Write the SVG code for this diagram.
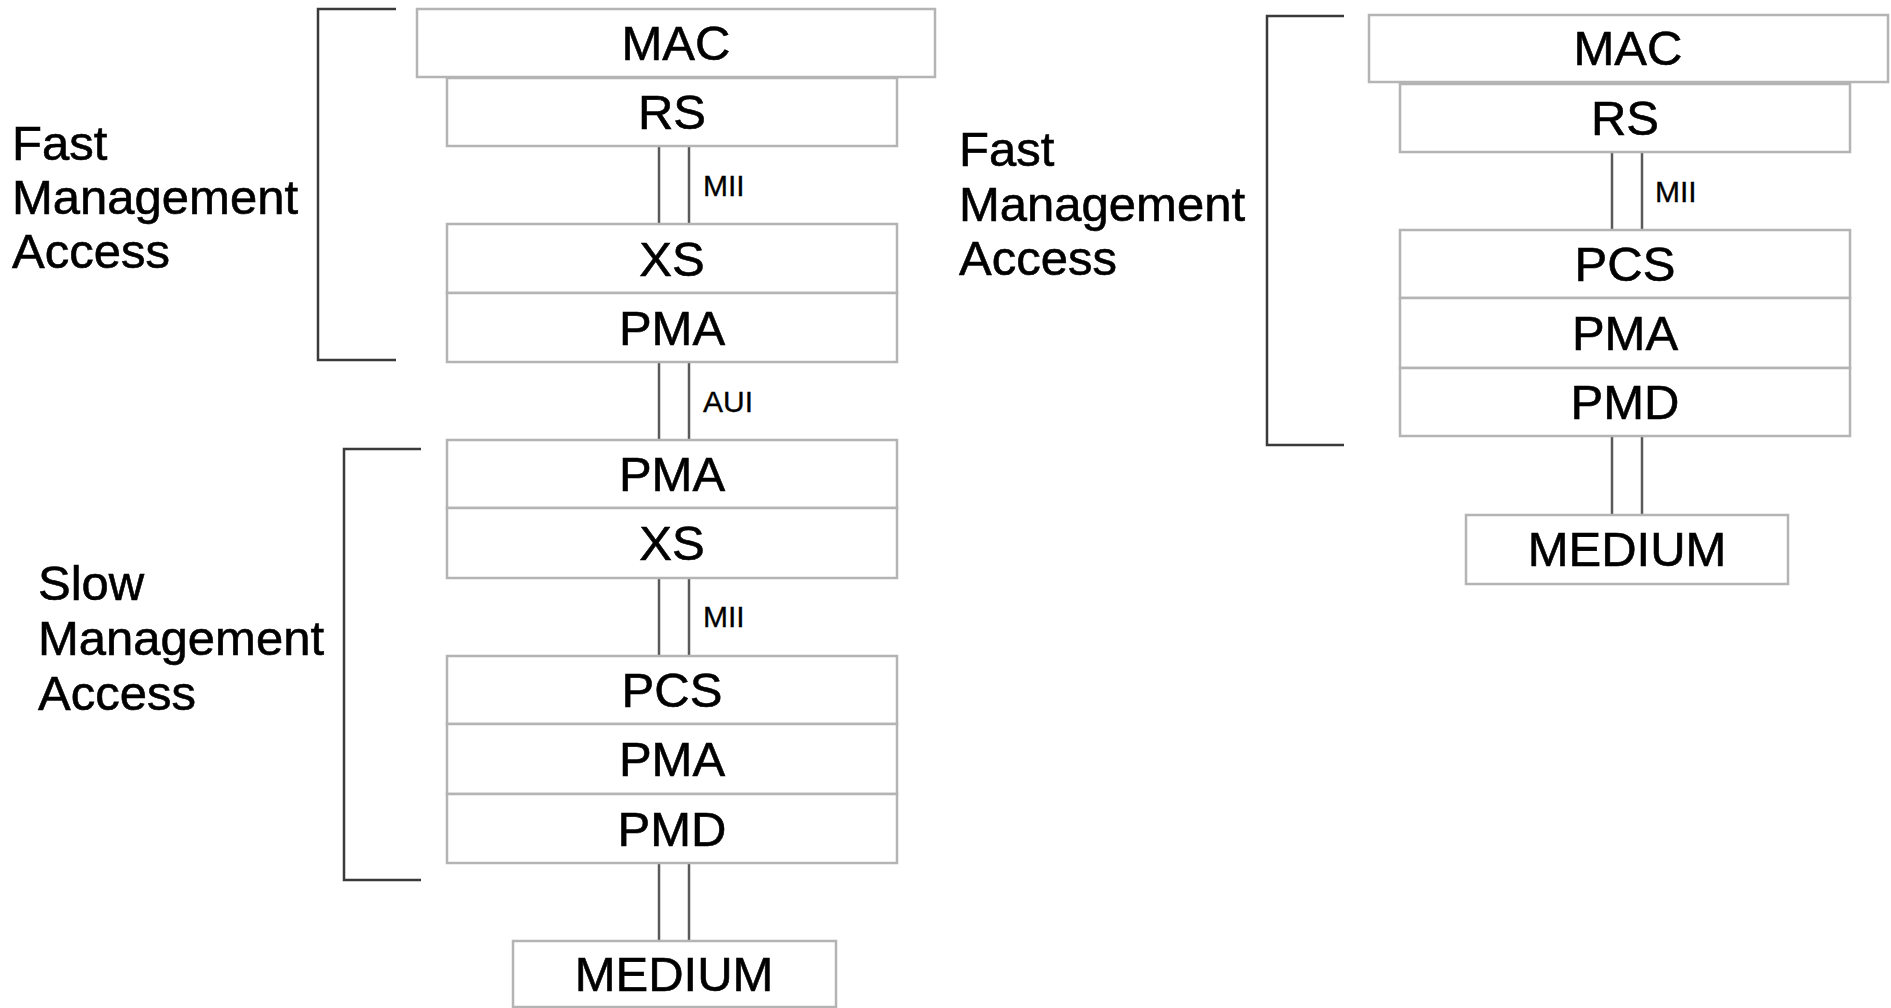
<svg xmlns="http://www.w3.org/2000/svg" width="1891" height="1008" viewBox="0 0 1891 1008">
<style>
.box{fill:#fff;stroke:#b4b4b4;stroke-width:2.5}
.lbl{font-family:"Liberation Sans",Arial,sans-serif;font-size:49px;fill:#000;stroke:#000;stroke-width:0.6;text-anchor:middle}
.side{font-family:"Liberation Sans",Arial,sans-serif;font-size:49px;fill:#000;stroke:#000;stroke-width:0.6}
.small{font-family:"Liberation Sans",Arial,sans-serif;font-size:30px;fill:#000;stroke:#000;stroke-width:0.3}
.conn{stroke:#5a5a5a;stroke-width:2.5;fill:none}
.bracket{stroke:#3a3a3a;stroke-width:2.5;fill:none}
</style>
<rect width="1891" height="1008" fill="#fff"/>

<g id="connectors">
  <line class="conn" x1="659" y1="146" x2="659" y2="224"/>
  <line class="conn" x1="689" y1="146" x2="689" y2="224"/>
  <line class="conn" x1="659" y1="362" x2="659" y2="440"/>
  <line class="conn" x1="689" y1="362" x2="689" y2="440"/>
  <line class="conn" x1="659" y1="578" x2="659" y2="656"/>
  <line class="conn" x1="689" y1="578" x2="689" y2="656"/>
  <line class="conn" x1="659" y1="863" x2="659" y2="941"/>
  <line class="conn" x1="689" y1="863" x2="689" y2="941"/>
  <line class="conn" x1="1612" y1="152" x2="1612" y2="230"/>
  <line class="conn" x1="1642" y1="152" x2="1642" y2="230"/>
  <line class="conn" x1="1612" y1="436" x2="1612" y2="515"/>
  <line class="conn" x1="1642" y1="436" x2="1642" y2="515"/>
  <text class="small" x="703" y="196">MII</text>
  <text class="small" x="703" y="412">AUI</text>
  <text class="small" x="703" y="627">MII</text>
  <text class="small" x="1655" y="202">MII</text>
</g>

<g id="brackets">
  <path class="bracket" d="M396,9 H318 V360 H396"/>
  <path class="bracket" d="M421,449 H344 V880 H421"/>
  <path class="bracket" d="M1344,16 H1267 V445 H1344"/>
</g>

<g id="label-fast-left">
  <text class="side" x="12" y="160">Fast</text>
  <text class="side" x="12" y="214">Management</text>
  <text class="side" x="12" y="268">Access</text>
</g>
<g id="label-slow-left">
  <text class="side" x="38" y="600">Slow</text>
  <text class="side" x="38" y="655">Management</text>
  <text class="side" x="38" y="710">Access</text>
</g>
<g id="label-fast-right">
  <text class="side" x="959" y="166">Fast</text>
  <text class="side" x="959" y="221">Management</text>
  <text class="side" x="959" y="275">Access</text>
</g>

<g id="l-mac"><rect class="box" x="417" y="9" width="518" height="68"/><text class="lbl" x="676" y="60">MAC</text></g>
<g id="l-rs"><rect class="box" x="447" y="78" width="450" height="68"/><text class="lbl" x="672" y="129">RS</text></g>
<g id="l-xs1"><rect class="box" x="447" y="224" width="450" height="69"/><text class="lbl" x="672" y="276">XS</text></g>
<g id="l-pma1"><rect class="box" x="447" y="293" width="450" height="69"/><text class="lbl" x="672" y="345">PMA</text></g>
<g id="l-pma2"><rect class="box" x="447" y="440" width="450" height="68"/><text class="lbl" x="672" y="491">PMA</text></g>
<g id="l-xs2"><rect class="box" x="447" y="508" width="450" height="70"/><text class="lbl" x="672" y="560">XS</text></g>
<g id="l-pcs"><rect class="box" x="447" y="656" width="450" height="68"/><text class="lbl" x="672" y="707">PCS</text></g>
<g id="l-pma3"><rect class="box" x="447" y="724" width="450" height="70"/><text class="lbl" x="672" y="776">PMA</text></g>
<g id="l-pmd"><rect class="box" x="447" y="794" width="450" height="69"/><text class="lbl" x="672" y="846">PMD</text></g>
<g id="l-medium"><rect class="box" x="513" y="941" width="323" height="66"/><text class="lbl" x="674" y="991">MEDIUM</text></g>

<g id="r-mac"><rect class="box" x="1369" y="15" width="519" height="67"/><text class="lbl" x="1628" y="65">MAC</text></g>
<g id="r-rs"><rect class="box" x="1400" y="84" width="450" height="68"/><text class="lbl" x="1625" y="135">RS</text></g>
<g id="r-pcs"><rect class="box" x="1400" y="230" width="450" height="68"/><text class="lbl" x="1625" y="281">PCS</text></g>
<g id="r-pma"><rect class="box" x="1400" y="298" width="450" height="70"/><text class="lbl" x="1625" y="350">PMA</text></g>
<g id="r-pmd"><rect class="box" x="1400" y="368" width="450" height="68"/><text class="lbl" x="1625" y="419">PMD</text></g>
<g id="r-medium"><rect class="box" x="1466" y="515" width="322" height="69"/><text class="lbl" x="1627" y="566">MEDIUM</text></g>
</svg>
